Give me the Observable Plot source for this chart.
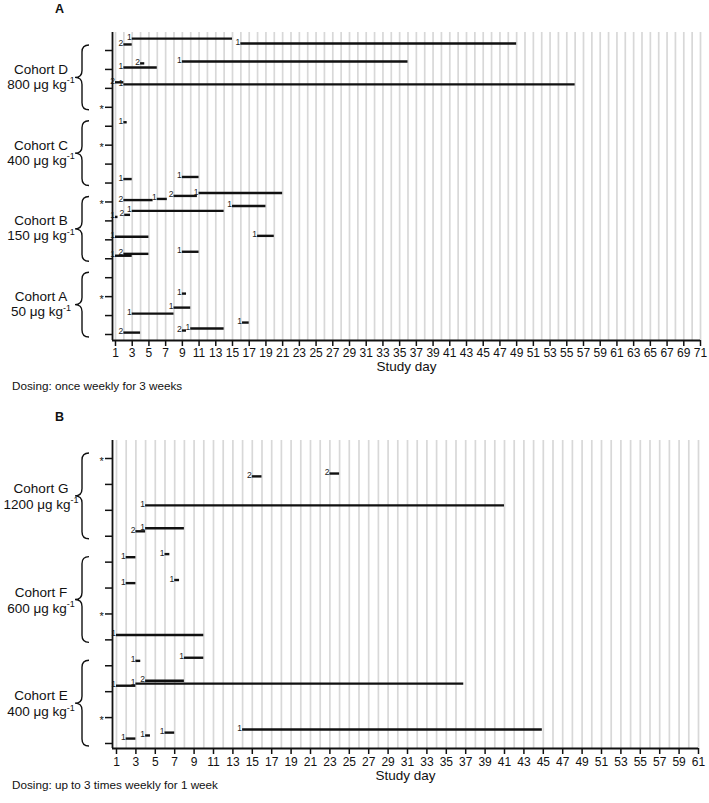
<!DOCTYPE html>
<html><head><meta charset="utf-8">
<script src="https://cdn.jsdelivr.net/npm/d3@7"></script>
<script src="https://cdn.jsdelivr.net/npm/@observablehq/plot@0.6"></script>
<style>
body{margin:0;background:#fff;font-family:"Liberation Sans",Arial,Helvetica,sans-serif;}
#wrap{position:relative;width:709px;height:803px;overflow:hidden;}
.panel{position:absolute;left:0;}
.lbl{position:absolute;white-space:nowrap;color:#111;line-height:1;}
</style></head><body><div id="wrap"></div>
<script>
// ---------- Panel A data ----------
const aRow   = [15,15,15,14,14,14,13,13,11,8,8,7,7,7,7,6,6,6,6,5,5,4,4,4,2,1,1,0,0,0,0];
const aLift  = [0.63,0.32,0.37,0.10,0.32,0.42,0.32,0.21,0.21,0.21,0.32,0.10,0.16,0.32,0.47,0.79,0.21,0.32,0.53,0.16,0.21,0.16,0.26,0.37,0.16,0.10,0.42,0.10,0.21,0.32,0.63];
const aStart = [3,2,16,2,4,9,1,2,2,2,9,2,6,8,11,15,1,2.1,3,1,18,1,2,9,9,3,8,2,9,10,16.2];
const aEnd   = [15,3,49,6,4.5,36,2,56,2.4,3,11,5.5,7.2,10.8,21,19,1.3,2.8,14,5,20,3,5,11,9.5,8,10,4,9.5,14,17];
const aLabel = ["1","2","1","1","2","1","2","1","1","1","1","2","1","2","1","1","1","2","1","1","1","1","2","1","1","1","1","2","2","1","1"];
const aStars = [12,10,7,2];
const aCohorts = ["Cohort D","Cohort C","Cohort B","Cohort A"];
const aDoses   = ["800","400","150","50"];
const aTopRow  = [15,11,7,3];
const aBotRow  = [12,8,4,0];
const aRows = d3.range(0, 16);
const aLastDay = 71;
const aCaption = "Dosing: once weekly for 3 weeks";

// ---------- Panel B data ----------
const bRow   = [10,10,9,8,8,7,7,6,6,4,3,3,2,2,2,0,0,0,0];
const bLift  = [0.31,0.42,0.19,0.19,0.31,0.19,0.31,0.19,0.31,0.19,0.19,0.31,0.23,0.31,0.42,0.19,0.31,0.42,0.54];
const bStart = [15,23,4,3,4,2,6,2,7,1,3,8,1,3,4,2,4,6,14];
const bEnd   = [16,24,41,4,8,3,6.5,3,7.5,10,3.5,10,3,36.8,8,3,4.5,7,44.9];
const bLabel = ["2","2","1","2","1","1","1","1","1","1","1","1","1","1","2","1","1","1","1"];
const bStars = [11,5,1];
const bCohorts = ["Cohort G","Cohort F","Cohort E"];
const bDoses   = ["1200","600","400"];
const bTopRow  = [11,7,3];
const bBotRow  = [8,4,0];
const bRows = d3.range(0, 12);
const bLastDay = 61;
const bCaption = "Dosing: up to 3 times weekly for 1 week";

const xTitle = "Study day";
const unit = " μg kg";
const sup = "-1";

const FONT = '"Liberation Sans", Arial, Helvetica, sans-serif';

function cohortMark(names, doses, tops, bots, off) {
  return (index, scales, values, dimensions, context) => {
    const ns = "http://www.w3.org/2000/svg";
    const doc = (context && context.document) || document;
    const g = doc.createElementNS(ns, "g");
    names.forEach((name, i) => {
      const yT = scales.y(tops[i]) - 5, yB = scales.y(bots[i]) + 3, yM = (yT + yB) / 2;
      const xC = 75, xS = 82, xT = 89, r = 7;
      const p = doc.createElementNS(ns, "path");
      p.setAttribute("d", `M${xT},${yT}Q${xS},${yT} ${xS},${yT + r}L${xS},${yM - r}Q${xS},${yM} ${xC},${yM}Q${xS},${yM} ${xS},${yM + r}L${xS},${yB - r}Q${xS},${yB} ${xT},${yB}`);
      p.setAttribute("fill", "none");
      p.setAttribute("stroke", "#111");
      p.setAttribute("stroke-width", "1.4");
      g.appendChild(p);
      const t1 = doc.createElementNS(ns, "text");
      t1.setAttribute("x", 41); t1.setAttribute("y", yM + off[0]);
      t1.setAttribute("text-anchor", "middle"); t1.setAttribute("font-size", "13.5");
      t1.setAttribute("fill", "#111");
      t1.textContent = name;
      g.appendChild(t1);
      const t2 = doc.createElementNS(ns, "text");
      t2.setAttribute("x", 41); t2.setAttribute("y", yM + off[1]);
      t2.setAttribute("text-anchor", "middle"); t2.setAttribute("font-size", "13.5");
      t2.setAttribute("fill", "#111");
      const s1 = doc.createElementNS(ns, "tspan");
      s1.textContent = doses[i] + unit;
      const s2 = doc.createElementNS(ns, "tspan");
      s2.setAttribute("dy", "-5.5"); s2.setAttribute("font-size", "9");
      s2.textContent = sup;
      t2.appendChild(s1); t2.appendChild(s2);
      g.appendChild(t2);
    });
    return g;
  };
}

function panel(cfg) {
  const bars = cfg.row.map((r, i) => ({y: r + cfg.lift[i], x1: cfg.start[i], x2: cfg.end[i], label: cfg.label[i]}));
  const days = d3.range(1, cfg.lastDay + 1);
  const xTicks = d3.range(1, cfg.lastDay + 1, 2);
  return Plot.plot({
    width: 709, height: cfg.height,
    marginLeft: 112, marginRight: cfg.marginRight, marginTop: cfg.marginTop, marginBottom: cfg.marginBottom,
    style: {fontFamily: FONT, fontSize: "12px", background: "transparent", overflow: "visible", color: "#111"},
    x: {domain: cfg.xDomain},
    y: {domain: cfg.yDomain},
    marks: [
      Plot.gridX(days, {stroke: "#d8d8d8", strokeWidth: 1.7, strokeOpacity: 1}),
      Plot.ruleY(bars, {x1: "x1", x2: "x2", y: "y", stroke: "#111", strokeWidth: 2.4}),
      Plot.text(bars, {x: "x1", y: "y", text: "label", textAnchor: "end", lineAnchor: "bottom", dx: -0.5, dy: 1.5, fontSize: 8.5, fill: "#222"}),
      Plot.ruleX([cfg.xDomain[0]], {stroke: "#111", strokeWidth: 1.8}),
      Plot.ruleY([cfg.yDomain[0]], {stroke: "#111", strokeWidth: 1.8}),
      Plot.axisY({ticks: cfg.rows, tickSize: 7, tickFormat: () => "", label: null, strokeWidth: 1.5}),
      Plot.axisX({ticks: xTicks, tickSize: 6, tickPadding: cfg.tickPad, label: null, fontSize: 12, strokeWidth: 1.5}),
      Plot.text([xTitle], {text: d => d, frameAnchor: "bottom", dy: cfg.titleDy, fontSize: 13.5, fill: "#111"}),
      Plot.text(cfg.stars, {y: d => d, text: () => "*", frameAnchor: "left", dx: -13, dy: 2.5, fontSize: 11, fill: "#111"}),
      cohortMark(cfg.cohorts, cfg.doses, cfg.tops, cfg.bots, cfg.off)
    ]
  });
}

const wrap = document.getElementById("wrap");

const pA = panel({
  row: aRow, lift: aLift, start: aStart, end: aEnd, label: aLabel, stars: aStars,
  cohorts: aCohorts, doses: aDoses, tops: aTopRow, bots: aBotRow, rows: aRows, lastDay: aLastDay,
  height: 400, marginTop: 32, marginBottom: 60, marginRight: 9,
  xDomain: [0.641, 71], yDomain: [-0.317, 15.951], tickPad: 2, titleDy: 30, off: [-3.5, 11.5]
});
const dA = document.createElement("div"); dA.className = "panel"; dA.style.top = "0px"; dA.appendChild(pA); wrap.appendChild(dA);

const pB = panel({
  row: bRow, lift: bLift, start: bStart, end: bEnd, label: bLabel, stars: bStars,
  cohorts: bCohorts, doses: bDoses, tops: bTopRow, bots: bBotRow, rows: bRows, lastDay: bLastDay,
  height: 403, marginTop: 40, marginBottom: 55, marginRight: 11,
  xDomain: [0.588, 61], yDomain: [-0.193, 11.695], tickPad: 3, titleDy: 31, off: [-3, 13]
});
const dB = document.createElement("div"); dB.className = "panel"; dB.style.top = "400px"; dB.appendChild(pB); wrap.appendChild(dB);

function label(text, left, top, size, bold) {
  const d = document.createElement("div");
  d.className = "lbl";
  d.textContent = text;
  d.style.left = left + "px"; d.style.top = top + "px";
  d.style.fontSize = size + "px";
  if (bold) d.style.fontWeight = "bold";
  wrap.appendChild(d);
}
label("A", 55, 3, 12.5, true);
label("B", 55, 410.5, 12.5, true);
label(aCaption, 12, 380, 11.7, false);
label(bCaption, 12, 779, 11.7, false);
</script></body></html>
